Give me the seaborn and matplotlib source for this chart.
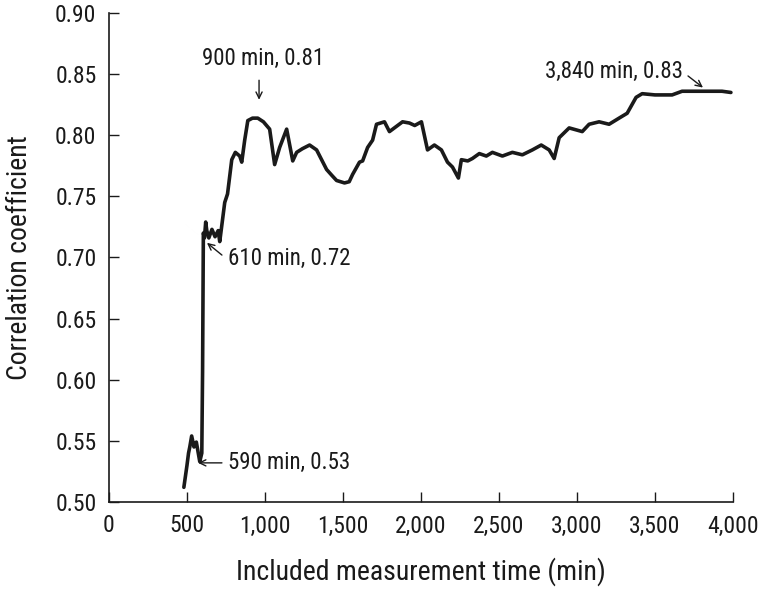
import matplotlib
matplotlib.use("Agg")
import matplotlib.pyplot as plt
import seaborn as sns
import pandas as pd

# readings: included time (min) vs correlation coefficient
minutes = [480, 500, 510, 518, 530, 545, 560, 582, 595, 600, 605, 612, 620, 627, 640,
           660, 680, 700, 710, 742, 760, 787, 810, 838, 851, 870, 890, 920, 954, 990,
           1030, 1062, 1094, 1139, 1178, 1203, 1240, 1286, 1331, 1395, 1430, 1459,
           1510, 1540, 1562, 1606, 1626, 1658, 1690, 1715, 1766, 1798, 1840, 1882,
           1926, 1960, 2003, 2042, 2086, 2131, 2170, 2202, 2240, 2259, 2300, 2330,
           2374, 2419, 2458, 2522, 2586, 2650, 2714, 2771, 2822, 2854, 2886, 2950,
           3034, 3078, 3142, 3206, 3270, 3322, 3379, 3418, 3500, 3610, 3674, 3800,
           3930, 3987]
corr = [0.512, 0.530, 0.540, 0.545, 0.554, 0.545, 0.549, 0.533, 0.540, 0.607, 0.720, 0.716,
        0.729, 0.722, 0.716, 0.723, 0.717, 0.722, 0.713, 0.745, 0.752, 0.780, 0.786, 0.783,
        0.778, 0.796, 0.812, 0.814, 0.814, 0.811, 0.805, 0.776, 0.790, 0.805, 0.779, 0.786,
        0.789, 0.792, 0.788, 0.772, 0.767, 0.763, 0.761, 0.762, 0.768, 0.778, 0.779, 0.790,
        0.796, 0.809, 0.811, 0.803, 0.807, 0.811, 0.810, 0.808, 0.811, 0.788, 0.792, 0.788,
        0.778, 0.774, 0.765, 0.780, 0.779, 0.781, 0.785, 0.783, 0.786, 0.783, 0.786, 0.784,
        0.788, 0.792, 0.788, 0.781, 0.798, 0.806, 0.803, 0.809, 0.811, 0.809, 0.814, 0.818,
        0.831, 0.834, 0.833, 0.833, 0.836, 0.836, 0.836, 0.835]

x_ticks = [0, 500, 1000, 1500, 2000, 2500, 3000, 3500, 4000]
x_tick_labels = ["0", "500", "1,000", "1,500", "2,000", "2,500", "3,000", "3,500", "4,000"]
y_ticks = [0.50, 0.55, 0.60, 0.65, 0.70, 0.75, 0.80, 0.85, 0.90]
y_tick_labels = ["0.50", "0.55", "0.60", "0.65", "0.70", "0.75", "0.80", "0.85", "0.90"]

notes = ["900 min, 0.81", "3,840 min, 0.83", "610 min, 0.72", "590 min, 0.53"]

df = pd.DataFrame({"minutes": minutes, "corr": corr})

sns.set_style("ticks")
plt.rcParams["font.family"] = ["Roboto Condensed", "Liberation Sans", "DejaVu Sans"]
ink = "#1a1a1a"

fig = plt.figure(figsize=(7.6, 5.94), dpi=100)
ax = fig.add_axes([0.1434, 0.1549, 0.821, 0.8232])

sns.lineplot(data=df, x="minutes", y="corr", color=ink, lw=2.6, ax=ax,
             estimator=None, sort=False)

ax.set_xlim(0, 4000)
ax.set_ylim(0.50, 0.90)
ax.set_xticks(x_ticks)
ax.set_xticklabels(x_tick_labels)
ax.set_yticks(y_ticks)
ax.set_yticklabels(y_tick_labels)
ax.tick_params(direction="in", length=7, width=1, labelsize=17, colors=ink, pad=9)
for s in ["top", "right"]:
    ax.spines[s].set_visible(False)
for s in ["left", "bottom"]:
    ax.spines[s].set_linewidth(1.2)
    ax.spines[s].set_color(ink)

ax.set_xlabel("Included measurement time (min)", fontsize=20, labelpad=14, color=ink)
ax.set_ylabel("Correlation coefficient", fontsize=20, labelpad=16, color=ink)

arrow = dict(arrowstyle="->,head_length=0.45,head_width=0.22", color=ink, lw=1.0,
             shrinkA=0, shrinkB=0)
fs = 16.5

# 900 min note, arrow pointing down
ax.text(987, 0.863, notes[0], fontsize=fs, ha="center", va="center", color=ink)
ax.annotate("", xy=(962, 0.829), xytext=(962, 0.845), arrowprops=arrow)

# 3,840 min note, arrow pointing down-right
ax.text(3679, 0.852, notes[1], fontsize=fs, ha="right", va="center", color=ink)
ax.annotate("", xy=(3808, 0.839), xytext=(3712, 0.8485), arrowprops=arrow)

# 610 min note
ax.text(763, 0.6996, notes[2], fontsize=fs, ha="left", va="center", color=ink)
ax.annotate("", xy=(628, 0.712), xytext=(724, 0.702), arrowprops=arrow)

# 590 min note
ax.text(763, 0.532, notes[3], fontsize=fs, ha="left", va="center", color=ink)
ax.annotate("", xy=(571, 0.532), xytext=(724, 0.532), arrowprops=arrow)

fig.savefig("out.png", dpi=100)
